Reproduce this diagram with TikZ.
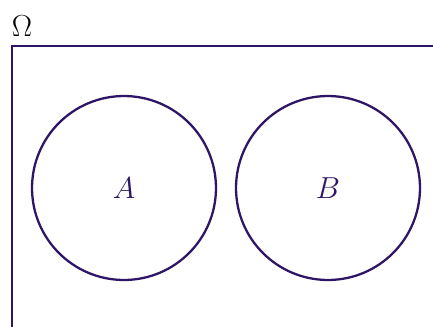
\documentclass[tikz,border=0pt]{standalone}
\usepackage{amsmath,amssymb}
\usetikzlibrary{positioning}
\definecolor{setline}{HTML}{2E1565}

\begin{document}
\begin{tikzpicture}[x=0.02cm,y=0.02cm]
\tikzset{
  setcircle/.style={circle,draw=setline,line width=1.3pt,minimum size=3.68cm,inner sep=0pt,
    text=setline,font=\fontsize{17}{20}\selectfont},
  universe/.style={draw=setline,line width=1.3pt},
  setlabel/.style={inner sep=0pt,font=\fontsize{17}{20}\selectfont}
}
\useasboundingbox (0,0) rectangle (433,326);
\clip (0,0) rectangle (433,326);
\coordinate (c_TL) at (12,280);
\coordinate (c_TR) at (445,280);
\coordinate (c_BL) at (12,-10);
\draw[universe] (c_BL) -- (c_TL) -- (c_TR);
\node[setlabel] (n_Omega) at (22,300) {$\Omega$};
\node[setcircle] (n_A) at (124,138) {$A$};
\node[setcircle] (n_B) at (328,138) {$B$};
\end{tikzpicture}
\end{document}
